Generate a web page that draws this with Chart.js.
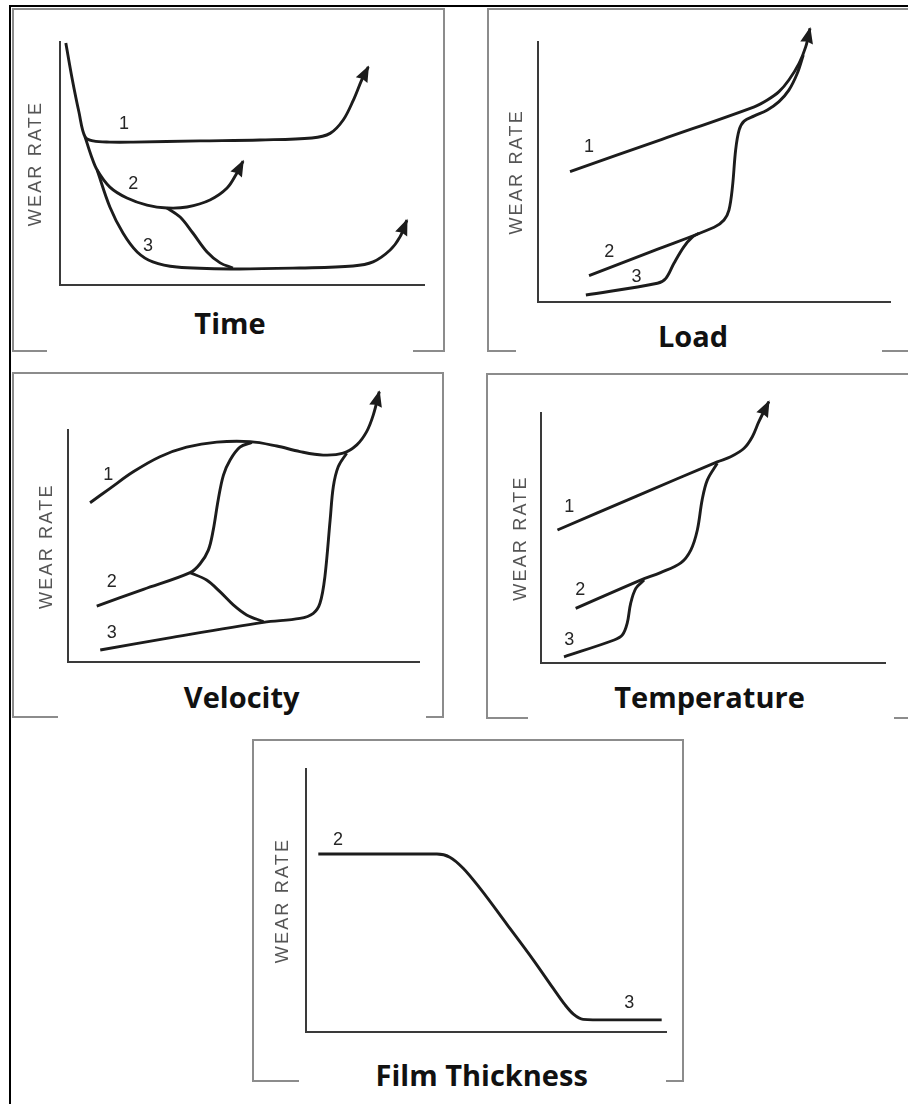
<!DOCTYPE html>
<html>
<head>
<meta charset="utf-8">
<title>Wear rate regimes</title>
<script src="https://cdn.jsdelivr.net/npm/chart.js@4.4.1/dist/chart.umd.min.js"></script>
<style>
  html, body { margin: 0; padding: 0; background: #fff; }
  body { width: 908px; height: 1104px; position: relative; overflow: hidden; }
  .sheet { position: absolute; left: 9px; top: 5px; width: 960px; height: 1160px;
           border-left: 2px solid #000; border-top: 2px solid #000; }
  .frame { position: absolute; box-sizing: border-box; border: 2px solid #8c8c8c; border-bottom: none; }
  .stub { position: absolute; height: 2px; background: #8c8c8c; }
  .caption { position: absolute; font-family: "Open Sans", sans-serif; font-weight: 700;
             font-size: 29px; line-height: 29px; color: #111; white-space: nowrap;
             transform: translateX(-50%); }
  canvas { position: absolute; }
</style>
</head>
<body>
<div class="sheet"></div>
<script>
// ---- Wear rate (arbitrary units, 0-100 on each axis) versus operating variable ----
// Regimes: 1 = unlubricated / boundary, 2 = mixed, 3 = full-film lubrication.

// Time
const timeRegime1 = [[1.6,99.6],[3.3,85.2],[5.2,71.2],[6.9,60.9],[9.1,59.3],[13.7,58.8],[20.1,58.8],[38.5,59.3],[54.9,59.7],[69.2,60.5],[74.2,62.4],[77.8,67.9],[80.6,76.1],[82.9,84.4],[84.7,89.8]];
const timeRegime2 = [[6.9,60.9],[8.5,53.5],[10.2,47.3],[13.7,40.3],[18.4,35.8],[23.9,32.9],[29.4,31.7],[34.9,32.1],[41.2,35.0],[45.9,39.9],[48.6,46.1],[50.3,51.0]];
const timeBranch23 = [[29.4,31.7],[33.0,28.0],[36.5,21.4],[40.4,13.6],[44.0,9.1],[47.5,7.0]];
const timeRegime3 = [[10.2,47.3],[13.7,32.1],[17.3,21.4],[21.2,13.6],[25.5,9.5],[32.1,7.4],[47.5,6.6],[65.9,7.0],[80.5,7.8],[86.0,9.5],[90.7,14.4],[93.4,19.8],[95.3,26.7]];
const timeTags = [['1',17.6,66.3],['2',20.1,41.6],['3',24.2,16.0]];

// Load
const loadRegime1 = [[9.0,50.1],[35.1,62.5],[61.3,75.0],[65.0,77.6],[68.3,80.8],[71.1,85.3],[74.0,91.7],[75.9,98.1],[77.1,105.1]];
const loadRegime2 = [[14.4,10.1],[32.8,19.7],[49.9,28.7],[52.7,31.5],[54.1,35.3],[55.1,44.3],[56.0,58.4],[57.0,66.1],[58.4,69.5],[61.3,71.5],[65.0,73.8],[68.3,77.0],[71.1,81.4],[73.5,87.9],[75.2,94.9]];
const loadRegime3 = [[13.5,2.7],[33.8,7.2],[36.2,9.1],[38.5,14.9],[41.3,21.2],[43.7,24.9],[45.6,26.4]];
const loadTags = [['1',14.4,59.7],['2',20.1,19.3],['3',27.9,9.5]];

// Velocity
const velocityRegime1 = [[6.2,68.7],[11.9,74.9],[18.5,82.0],[26.1,88.5],[33.7,92.6],[42.3,94.8],[51.8,95.0],[59.4,93.1],[66.0,90.7],[72.6,89.2],[78.3,90.0],[82.2,93.6],[85.0,99.3],[86.9,106.5],[88.6,116.5]];
const velocityRegime2 = [[8.1,24.2],[21.4,31.4],[34.7,38.6],[37.5,42.3],[39.9,48.3],[41.3,57.0],[42.7,69.9],[44.2,80.6],[46.1,87.1],[48.9,92.6],[52.3,94.7]];
const velocityBranch23 = [[34.7,38.6],[39.4,35.4],[43.2,30.4],[47.0,24.7],[50.8,20.4],[55.6,17.5]];
const velocityRegime3 = [[9.1,5.3],[28.0,10.3],[55.6,17.2],[66.0,18.9],[69.8,21.1],[71.7,25.4],[73.1,36.8],[74.6,61.3],[75.5,75.6],[76.9,84.2],[79.3,90.0]];
const velocityTags = [['1',11.4,80.6],['2',12.4,34.7],['3',12.4,12.5]];

// Temperature
const tempRegime1 = [[4.7,53.2],[27.9,66.8],[51.2,80.4],[55.1,82.4],[59.0,85.8],[61.4,90.4],[63.3,96.4],[66.2,104.4]];
const tempRegime2 = [[10.0,21.9],[28.9,33.2],[34.7,36.2],[40.6,40.1],[43.5,45.2],[45.4,53.2],[46.8,65.2],[48.3,73.1],[51.2,79.8]];
const tempRegime3 = [[6.6,2.6],[21.2,9.3],[23.6,11.3],[25.0,16.0],[26.0,23.9],[27.5,29.9],[29.9,33.2]];
const tempTags = [['1',8.1,62.5],['2',11.3,29.2],['3',8.1,9.3]];

// Film thickness (mixed -> full film)
const filmRegime23 = [[3.5,67.7],[19.8,67.7],[36.4,67.7],[40.0,66.5],[43.7,62.3],[48.4,54.6],[55.8,41.0],[63.2,27.3],[68.7,16.5],[72.0,10.2],[74.3,6.7],[77.0,4.7],[83.5,4.5],[98.8,4.5]];
const filmTags = [['2',9.0,73.1],['3',89.8,11.1]];

const AXIS_TITLE = 'WEAR RATE';

// ---- styling ----
const INK = '#1c1c1c';
const AXIS_INK = '#3a3a3a';
const TITLE_LH = 18 * 1.2;

// ---- page layout of the five panels (pixels) ----
const panels = [
  { caption: 'Time', capX: 230, capBase: 334,
    frame: { l: 12, t: 8, w: 433, h: 344 }, stubs: [[12, 47], [413, 445]],
    area: { L: 60, T: 42, R: 424, B: 285 }, wearX: 36,
    series: [
      { label: '1', points: timeRegime1, arrow: true },
      { label: '2', points: timeRegime2, arrow: true },
      { label: '2-3', points: timeBranch23 },
      { label: '3', points: timeRegime3, arrow: true }
    ], tags: timeTags },
  { caption: 'Load', capX: 693, capBase: 347,
    frame: { l: 487, t: 8, w: 470, h: 344 }, stubs: [[487, 516], [882, 960]],
    area: { L: 538.3, T: 41.7, R: 890.7, B: 302 }, wearX: 517.3,
    series: [
      { label: '1', points: loadRegime1, arrow: true },
      { label: '2', points: loadRegime2 },
      { label: '3', points: loadRegime3 }
    ], tags: loadTags },
  { caption: 'Velocity', capX: 241.7, capBase: 708,
    frame: { l: 12, t: 372, w: 432, h: 346 }, stubs: [[12, 58], [426, 444]],
    area: { L: 68.3, T: 430, R: 419.3, B: 662.3 }, wearX: 46.7,
    series: [
      { label: '1', points: velocityRegime1, arrow: true },
      { label: '2', points: velocityRegime2 },
      { label: '2-3', points: velocityBranch23 },
      { label: '3', points: velocityRegime3 }
    ], tags: velocityTags },
  { caption: 'Temperature', capX: 709.5, capBase: 708,
    frame: { l: 486, t: 373, w: 470, h: 346 }, stubs: [[486, 528], [894, 960]],
    area: { L: 541.3, T: 412.7, R: 885, B: 663.3 }, wearX: 520.7,
    series: [
      { label: '1', points: tempRegime1, arrow: true },
      { label: '2', points: tempRegime2 },
      { label: '3', points: tempRegime3 }
    ], tags: tempTags },
  { caption: 'Film Thickness', capX: 481.7, capBase: 1086,
    frame: { l: 252, t: 739, w: 432, h: 343 }, stubs: [[252, 299], [666, 684]],
    area: { L: 305.7, T: 769.3, R: 666, B: 1031.7 }, wearX: 283.3,
    series: [
      { label: '2-3', points: filmRegime23, smooth: 'monotone' }
    ], tags: filmTags }
];

// Axis title is drawn with a little tracking; everything else without.
const trackingPlugin = {
  id: 'tracking',
  beforeDraw(chart) { chart.ctx.letterSpacing = '2.2px'; },
  afterDraw(chart) { chart.ctx.letterSpacing = '0px'; }
};

// Filled arrowheads at the end of the curves that keep rising.
const arrowPlugin = {
  id: 'arrowHeads',
  afterDatasetsDraw(chart) {
    const ctx = chart.ctx;
    chart.data.datasets.forEach((ds, i) => {
      if (!ds.arrow) return;
      const pts = chart.getDatasetMeta(i).data;
      const tip = pts[pts.length - 1];
      let bx = tip.cp1x, by = tip.cp1y;
      if (bx === undefined || Math.hypot(tip.x - bx, tip.y - by) < 0.5) {
        bx = pts[pts.length - 2].x; by = pts[pts.length - 2].y;
      }
      const a = Math.atan2(tip.y - by, tip.x - bx);
      const len = 15, half = 6.5;
      ctx.save();
      ctx.translate(tip.x, tip.y);
      ctx.rotate(a);
      ctx.beginPath();
      ctx.moveTo(1.5, 0);
      ctx.lineTo(-len, -half);
      ctx.lineTo(-len + 1.5, 0);
      ctx.lineTo(-len, half);
      ctx.closePath();
      ctx.fillStyle = INK;
      ctx.fill();
      ctx.restore();
    });
  }
};

// Regime numbers placed next to their curves.
const tagPlugin = {
  id: 'regimeTags',
  afterDraw(chart) {
    const ctx = chart.ctx;
    const tags = chart.options.plugins.regimeTags.tags;
    const xs = chart.scales.x, ys = chart.scales.y;
    ctx.save();
    ctx.letterSpacing = '0px';
    ctx.font = '18px "Liberation Sans", Arial, sans-serif';
    ctx.fillStyle = '#262626';
    ctx.textAlign = 'center';
    ctx.textBaseline = 'middle';
    tags.forEach(([t, x, y]) => ctx.fillText(t, xs.getPixelForValue(x), ys.getPixelForValue(y)));
    ctx.restore();
  }
};

function addDiv(cls, css, text) {
  const d = document.createElement('div');
  d.className = cls;
  Object.assign(d.style, css);
  if (text) d.textContent = text;
  document.body.appendChild(d);
  return d;
}

panels.forEach(p => {
  // scanned-page frame: three sides plus two short bottom stubs
  addDiv('frame', { left: p.frame.l + 'px', top: p.frame.t + 'px', width: p.frame.w + 'px', height: p.frame.h + 'px' });
  p.stubs.forEach(([a, b]) => addDiv('stub', { left: a + 'px', top: (p.frame.t + p.frame.h - 2) + 'px', width: (b - a) + 'px' }));
  addDiv('caption', { left: p.capX + 'px', top: (p.capBase - 25.7) + 'px' }, p.caption);

  const cx = p.frame.l + 3, cy = p.frame.t + 3;
  const cw = Math.ceil(p.area.R + 14 - cx), ch = Math.ceil(p.area.B + 8 - cy);
  const cv = document.createElement('canvas');
  cv.width = cw; cv.height = ch;
  Object.assign(cv.style, { left: cx + 'px', top: cy + 'px', width: cw + 'px', height: ch + 'px' });
  document.body.appendChild(cv);

  new Chart(cv, {
    type: 'scatter',
    data: {
      datasets: p.series.map(s => ({
        label: s.label,
        data: s.points.map(([x, y]) => ({ x, y })),
        showLine: true,
        borderColor: INK,
        borderWidth: 2.9,
        pointRadius: 0,
        pointHoverRadius: 0,
        tension: 0.35,
        cubicInterpolationMode: s.smooth || 'default',
        clip: false,
        arrow: !!s.arrow
      }))
    },
    options: {
      responsive: false,
      animation: false,
      devicePixelRatio: 1,
      events: [],
      layout: {
        padding: {
          left: p.wearX - TITLE_LH / 2 - cx,
          top: p.area.T - cy,
          right: cx + cw - p.area.R,
          bottom: cy + ch - p.area.B
        }
      },
      plugins: {
        legend: { display: false },
        tooltip: { enabled: false },
        regimeTags: { tags: p.tags }
      },
      scales: {
        x: {
          type: 'linear', min: 0, max: 100,
          ticks: { display: false },
          grid: { display: false, drawTicks: false },
          border: { display: true, color: AXIS_INK, width: 2 }
        },
        y: {
          type: 'linear', min: 0, max: 100,
          ticks: { display: false },
          grid: { display: false, drawTicks: false },
          border: { display: true, color: AXIS_INK, width: 2 },
          title: {
            display: true,
            text: AXIS_TITLE,
            color: '#555',
            font: { family: '"Liberation Sans", Arial, sans-serif', size: 18, lineHeight: 1.2 },
            padding: { top: 0, bottom: p.area.L - p.wearX - TITLE_LH / 2 }
          }
        }
      }
    },
    plugins: [trackingPlugin, arrowPlugin, tagPlugin]
  });
});
</script>
</body>
</html>
